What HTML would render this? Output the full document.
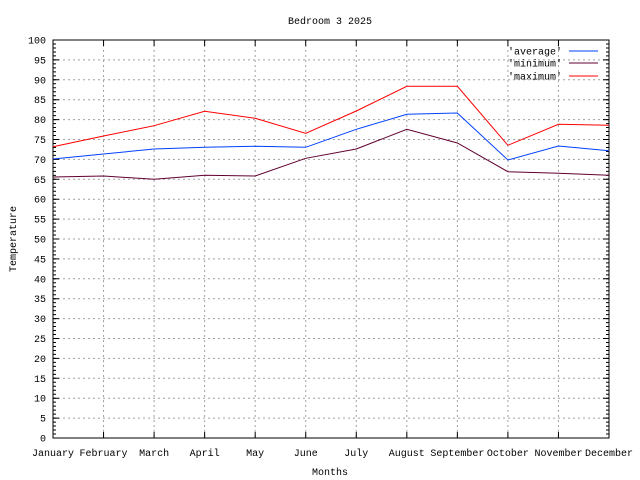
<!DOCTYPE html>
<html><head><style>body{margin:0;background:#fff}svg{display:block}text{font-family:"Liberation Mono",monospace;font-size:10px;fill:#000}</style></head><body>
<svg width="640" height="480" xmlns="http://www.w3.org/2000/svg">
<path d="M53 418.1H609M53 398.2H609M53 378.3H609M53 358.4H609M53 338.5H609M53 318.6H609M53 298.7H609M53 278.8H609M53 258.9H609M53 239H609M53 219.1H609M53 199.2H609M53 179.3H609M53 159.4H609M53 139.5H609M53 119.6H609M53 99.7H609M53 79.8H609M53 59.9H609" stroke="#a0a0a0" stroke-dasharray="2,3" fill="none"/>
<path d="M103.55 40V438M154.09 40V438M204.64 40V438M255.18 40V438M305.73 40V438M356.27 40V438M406.82 40V438M457.36 40V438M507.91 40V438M558.45 40V438" stroke="#a0a0a0" stroke-dasharray="2,3" fill="none"/>
<line x1="54.5" x2="54.5" y1="438.5" y2="39" stroke="#000" stroke-width="3" stroke-dasharray="1 2.98"/>
<line x1="56" x2="56" y1="438.5" y2="39" stroke="#000" stroke-width="6" stroke-dasharray="1 18.9"/>
<line x1="607.5" x2="607.5" y1="438.5" y2="39" stroke="#000" stroke-width="3" stroke-dasharray="1 2.98"/>
<line x1="606" x2="606" y1="438.5" y2="39" stroke="#000" stroke-width="6" stroke-dasharray="1 18.9"/>
<path d="M103.55 438v-6M154.09 438v-6M204.64 438v-6M255.18 438v-6M305.73 438v-6M356.27 438v-6M406.82 438v-6M457.36 438v-6M507.91 438v-6M558.45 438v-6M103.55 40v6M154.09 40v6M204.64 40v6M255.18 40v6M305.73 40v6M356.27 40v6M406.82 40v6M457.36 40v6M507.91 40v6M558.45 40v6" stroke="#000"/>
<rect x="53" y="40" width="556" height="398" fill="none" stroke="#000"/>
<g text-anchor="end">
<text x="46" y="441.5">0</text><text x="46" y="421.6">5</text><text x="46" y="401.7">10</text><text x="46" y="381.8">15</text><text x="46" y="361.9">20</text><text x="46" y="342">25</text><text x="46" y="322.1">30</text><text x="46" y="302.2">35</text><text x="46" y="282.3">40</text><text x="46" y="262.4">45</text><text x="46" y="242.5">50</text><text x="46" y="222.6">55</text><text x="46" y="202.7">60</text><text x="46" y="182.8">65</text><text x="46" y="162.9">70</text><text x="46" y="143">75</text><text x="46" y="123.1">80</text><text x="46" y="103.2">85</text><text x="46" y="83.3">90</text><text x="46" y="63.4">95</text><text x="46" y="43.5">100</text>
</g>
<g text-anchor="middle">
<text x="53" y="456">January</text><text x="103.55" y="456">February</text><text x="154.09" y="456">March</text><text x="204.64" y="456">April</text><text x="255.18" y="456">May</text><text x="305.73" y="456">June</text><text x="356.27" y="456">July</text><text x="406.82" y="456">August</text><text x="457.36" y="456">September</text><text x="507.91" y="456">October</text><text x="558.45" y="456">November</text><text x="609" y="456">December</text>
<text x="330" y="24">Bedroom 3 2025</text><text x="330" y="475">Months</text>
<text transform="translate(16,239) rotate(-90)">Temperature</text>
</g>
<polyline fill="none" stroke="#ff0000" points="53,146.7 103.55,136 154.09,125.7 204.64,111.3 255.18,118.3 305.73,133.3 356.27,111 406.82,86.3 457.36,86.3 507.91,145.3 558.45,124.3 609,125.3"/>
<polyline fill="none" stroke="#0040ff" points="53,159 103.55,154 154.09,149 204.64,147.3 255.18,146.3 305.73,147.3 356.27,129.3 406.82,114.3 457.36,113 507.91,160 558.45,146 609,150.7"/>
<polyline fill="none" stroke="#600030" points="53,177 103.55,176 154.09,179.3 204.64,175.3 255.18,176 305.73,158.3 356.27,149 406.82,129.3 457.36,143 507.91,171.7 558.45,173.3 609,175.3"/>
<g text-anchor="end">
<text x="562" y="54.5">'average'</text><text x="562" y="66.5">'minimum'</text><text x="562" y="79.5">'maximum'</text>
</g>
<line x1="569" x2="598" y1="51" y2="51" stroke="#0040ff"/>
<line x1="569" x2="598" y1="63" y2="63" stroke="#600030"/>
<line x1="569" x2="598" y1="76" y2="76" stroke="#ff0000"/>
</svg>
</body></html>
